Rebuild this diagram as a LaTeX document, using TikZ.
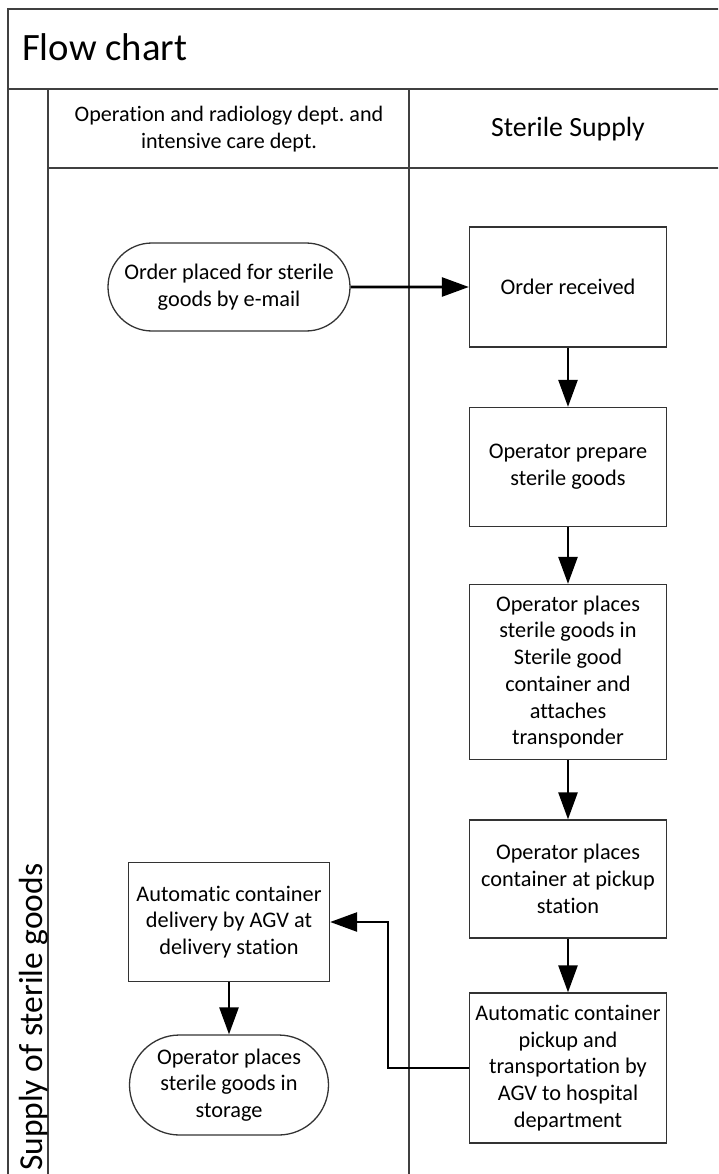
\documentclass[tikz,border=0pt]{standalone}
\usepackage{fontspec}
\setmainfont{Carlito}[Ligatures={NoCommon}]
\frenchspacing
\usetikzlibrary{positioning}
\usetikzlibrary{shapes.misc, arrows.meta}

\begin{document}
\begin{tikzpicture}[x=1pt, y=-1pt, >={Triangle[length=27pt, width=19pt]},
    lane/.style={draw=black!75, line width=1.5pt},
    procbox/.style={draw=black!80, line width=1.3pt, rectangle, align=center,
        inner sep=0pt, minimum width=197pt, minimum height=#1,
        font=\fontsize{22.3}{26.7}\selectfont},
    termbox/.style={draw=black!80, line width=1.3pt, rounded rectangle, align=center,
        inner sep=0pt, minimum height=#1, font=\fontsize{22.3}{26.7}\selectfont},
    flow/.style={->, line width=2.6pt, black}]
    \useasboundingbox (0,0) rectangle (718,1174);
    \clip (0,0) rectangle (718,1174);

    % Pool and lanes
    \draw[lane] (8,1200) -- (8,9) -- (740,9);
    \draw[lane] (8,89) -- (740,89);
    \draw[lane] (48,89) -- (48,1200);
    \draw[lane] (409,89) -- (409,1200);
    \draw[lane] (48,168) -- (740,168);

    % Headers
    \node[anchor=base west, inner sep=0pt, font=\fontsize{38.7}{46}\selectfont] (title) at (22,61) {Flow chart};
    \node[align=center, font=\fontsize{22.1}{27}\selectfont] (wardhead) at (229,129)
        {Operation and radiology dept. and\\intensive care dept.};
    \node[font=\fontsize{27.8}{33}\selectfont] (sterilehead) at (568,129) {Sterile Supply};
    \node[rotate=90, anchor=base west, inner sep=0pt, font=\fontsize{33.5}{40}\selectfont] (poollabel) at (42,1171)
        {Supply of sterile goods};

    % Steps
    \node[termbox=88pt, minimum width=242pt] (order) at (229,287) {Order placed for sterile\\goods by e-mail};
    \node[procbox=120pt] (received) at (568,287) {Order received};
    \node[procbox=119pt] (prepare) at (568,467) {Operator prepare\\sterile goods};
    \node[procbox=175pt] (pack) at (568,672) {Operator places\\sterile goods in\\Sterile good\\container and\\attaches\\transponder};
    \node[procbox=118pt] (pickup) at (568,879) {Operator places\\container at pickup\\station};
    \node[procbox=150pt] (transport) at (568,1068) {Automatic container\\pickup and\\transportation by\\AGV to hospital\\department};
    \node[procbox=119pt, minimum width=201pt] (delivery) at (229,922) {Automatic container\\delivery by AGV at\\delivery station};
    \node[termbox=100pt, minimum width=199pt] (storage) at (229,1085) {Operator places\\sterile goods in\\storage};

    % Connectors
    \draw[flow] (order) -- (received);
    \draw[flow] (received) -- (prepare);
    \draw[flow] (prepare) -- (pack);
    \draw[flow] (pack) -- (pickup);
    \draw[flow] (pickup) -- (transport);
    \coordinate (bend) at (388,1068);
    \draw[flow] (transport.west) -- (bend) |- (delivery.east);
    \draw[flow] (delivery) -- (storage);
\end{tikzpicture}
\end{document}
